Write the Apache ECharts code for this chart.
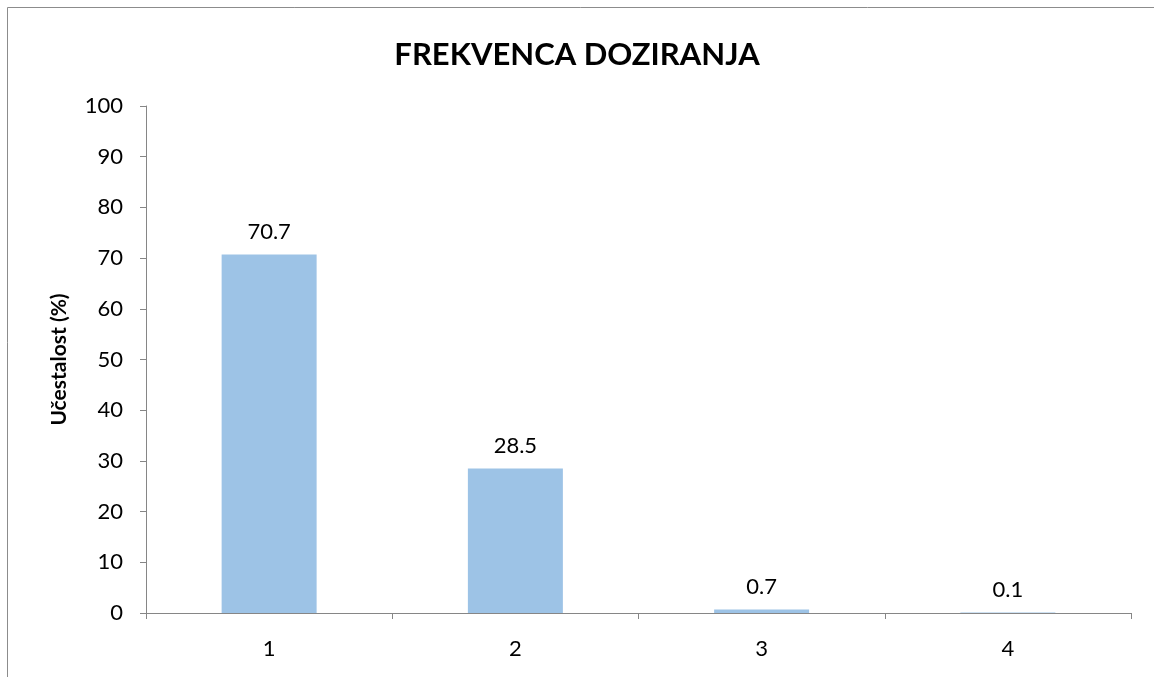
<!DOCTYPE html>
<html>
<head>
<meta charset="utf-8">
<script src="https://cdn.jsdelivr.net/npm/echarts@6/dist/echarts.min.js"></script>
<style>html,body{margin:0;padding:0;background:#fff;}#c{width:1154px;height:677px;}</style>
</head>
<body>
<div id="c"></div>
<script>
const categories = ['1', '2', '3', '4'];
const values = [70.7, 28.5, 0.7, 0.1];
const titleText = 'FREKVENCA DOZIRANJA';
const yAxisName = 'Učestalost (%)';

const chart = echarts.init(document.getElementById('c'));
const font = 'Lato, "Open Sans", sans-serif';
chart.setOption({
  animation: false,
  backgroundColor: '#fff',
  title: {
    text: titleText, left: 'center', top: 34,
    textStyle: { fontFamily: font, fontSize: 31, fontWeight: 'bold', color: '#000' }
  },
  graphic: [
    { type: 'line', shape: { x1: 7.5, y1: 7.5, x2: 1154, y2: 7.5 }, style: { stroke: '#8c8c8c', lineWidth: 1 } },
    { type: 'line', shape: { x1: 7.5, y1: 7.5, x2: 7.5, y2: 677 }, style: { stroke: '#8c8c8c', lineWidth: 1 } }
  ],
  grid: { left: 146, right: 23, top: 106, bottom: 64, containLabel: false },
  xAxis: {
    type: 'category', data: categories,
    axisLine: { lineStyle: { color: '#868686' } },
    axisTick: { show: true, length: 6, alignWithLabel: false, lineStyle: { color: '#868686' } },
    axisLabel: { fontFamily: font, fontSize: 22, color: '#000', margin: 25 }
  },
  yAxis: {
    type: 'value', min: 0, max: 100, interval: 10,
    name: yAxisName, nameLocation: 'middle', nameGap: 76, nameRotate: 90,
    nameTextStyle: { fontFamily: font, fontSize: 21, fontWeight: 'bold', color: '#000' },
    axisLine: { show: true, lineStyle: { color: '#868686' } },
    axisTick: { show: true, length: 6, lineStyle: { color: '#868686' } },
    splitLine: { show: false },
    axisLabel: { fontFamily: font, fontSize: 22, color: '#000', margin: 23 }
  },
  series: [{
    type: 'bar', data: values, barWidth: 95,
    itemStyle: { color: '#9DC3E6' },
    label: { show: true, position: 'top', distance: 12, fontFamily: font, fontSize: 22, color: '#000' }
  }]
});
</script>
</body>
</html>
